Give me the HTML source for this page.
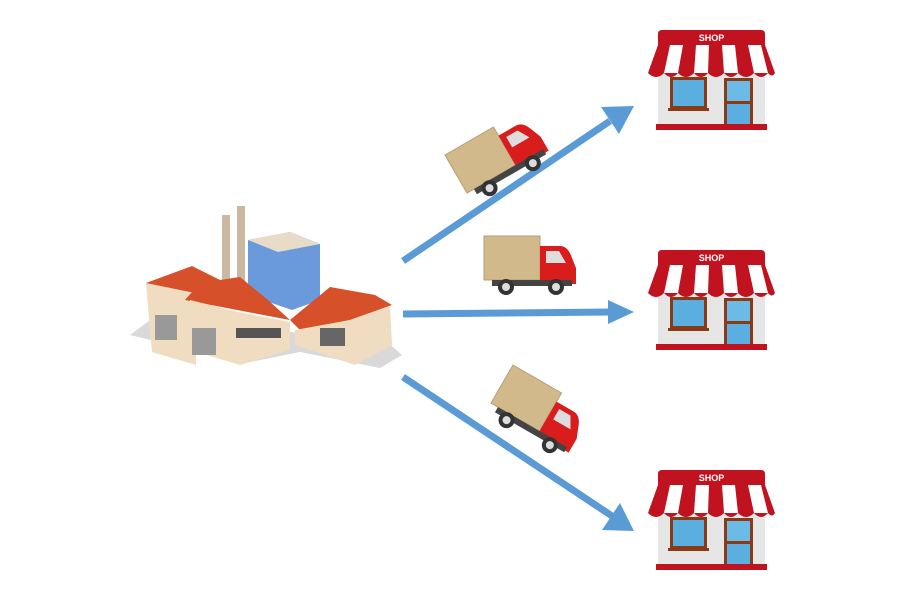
<!DOCTYPE html>
<html><head><style>html,body{margin:0;padding:0;background:#fff}svg{display:block}</style></head><body>
<svg width="900" height="600" viewBox="0 0 900 600" xmlns="http://www.w3.org/2000/svg">
<defs>
<g id="shop">
  <rect x="10" y="46" width="107" height="52" fill="#e6e6e6"/>
  <rect x="22" y="50" width="37" height="32" fill="#8a3a14"/>
  <rect x="25" y="53" width="31" height="26" fill="#5aaee0"/>
  <rect x="20" y="81" width="41" height="3" fill="#8a3a14"/>
  <rect x="76" y="51" width="29" height="48" fill="#8a3a14"/>
  <rect x="79" y="54" width="23" height="20" fill="#6bbbe6"/>
  <rect x="79" y="77" width="23" height="20" fill="#5aaee0"/>
  <path d="M14,3 h99 q4,0 4,4 v11 h-107 v-11 q0,-4 4,-4z" fill="#c0121f"/>
  <text x="63.5" y="14" font-family="Liberation Sans, sans-serif" font-weight="bold" font-size="9" fill="#fff" text-anchor="middle">SHOP</text>
  <path d="M10,18 L0,46 L127,46 L117,18 Z" fill="#fff"/>
  <path d="M10,18 L22,18 L16,46 L0,46Z M35,18 L48,18 L46,46 L30,46Z M61,18 L74,18 L76,46 L60,46Z M87,18 L100,18 L106,46 L90,46Z M113,18 L117,18 L127,46 L120,46Z" fill="#c0121f"/>
  <path d="M0,46 q8,8 16,0 q7,8 14,0 q8,8 16,0 q7,8 14,0 q8,8 16,0 q7,8 14,0 q8,8 16,0 q7,8 14,0 q4,5 7,0 z" fill="#c0121f"/>
  <rect x="8" y="97" width="111" height="6" fill="#c0121f"/>
</g>
<g id="truck">
  <rect x="0" y="0" width="56" height="44" fill="#d2b98c" stroke="#b89e72" stroke-width="1"/>
  <path d="M56,10 h20 q8,0 12,12 l4,10 v16 h-36z" fill="#d91d1d"/>
  <path d="M62,15 h13 l7,12 h-20z" fill="#ddd"/>
  <rect x="8" y="44" width="80" height="6" fill="#444"/>
  <circle cx="22" cy="51" r="8" fill="#333"/><circle cx="22" cy="51" r="4" fill="#ddd"/>
  <circle cx="72" cy="51" r="8" fill="#333"/><circle cx="72" cy="51" r="4" fill="#ddd"/>
</g>
</defs>

<g stroke="#5b9bd5" stroke-width="7" fill="none">
<line x1="403" y1="261" x2="610" y2="121"/>
<line x1="403" y1="314" x2="612" y2="312"/>
<line x1="403" y1="377" x2="612" y2="516"/>
</g>
<g fill="#5b9bd5">
<polygon points="634,106 619,134 601,107"/>
<polygon points="634,312 608,300 608,324"/>
<polygon points="634,531 602,530 620,503"/>
</g>

<use href="#shop" x="648" y="27"/>
<use href="#shop" x="648" y="247"/>
<use href="#shop" x="648" y="467"/>

<use href="#truck" transform="translate(484,236)"/>
<use href="#truck" transform="translate(445,155) rotate(-30)"/>
<use href="#truck" transform="translate(513,365) rotate(30)"/>

<g>
<path d="M130,335 L200,352 L250,362 L300,352 L380,368 L402,355 L385,340 L150,320 Z" fill="#d9d9d9"/>
<rect x="222" y="215" width="8" height="70" fill="#cbb8a0"/>
<rect x="237" y="206" width="8" height="80" fill="#cbb8a0"/>
<polygon points="248,240 290,232 320,244 320,300 292,310 248,295" fill="#5b8fd8" opacity="0.9"/>
<polygon points="248,240 290,232 320,244 278,252" fill="#e8dcc8"/>
<polygon points="146,283 152,352 196,365 196,300 186,275" fill="#f0dcc0"/>
<polygon points="146,283 192,266 220,280 240,300 190,292" fill="#d6502a"/>
<polygon points="185,300 200,283 240,277 268,300 290,320 237,310" fill="#d6502a"/>
<polygon points="190,300 238,312 290,322 290,350 240,365 190,350" fill="#f0dcc0"/>
<polygon points="290,320 330,287 375,295 392,305 350,320 300,330" fill="#d6502a"/>
<polygon points="295,330 350,320 390,306 392,345 355,365 295,345" fill="#f0dcc0"/>
<rect x="155" y="315" width="22" height="25" fill="#999"/>
<rect x="192" y="328" width="24" height="27" fill="#999"/>
<rect x="236" y="328" width="45" height="10" fill="#555"/>
<rect x="320" y="328" width="25" height="18" fill="#666"/>
</g>
</svg>
</body></html>
